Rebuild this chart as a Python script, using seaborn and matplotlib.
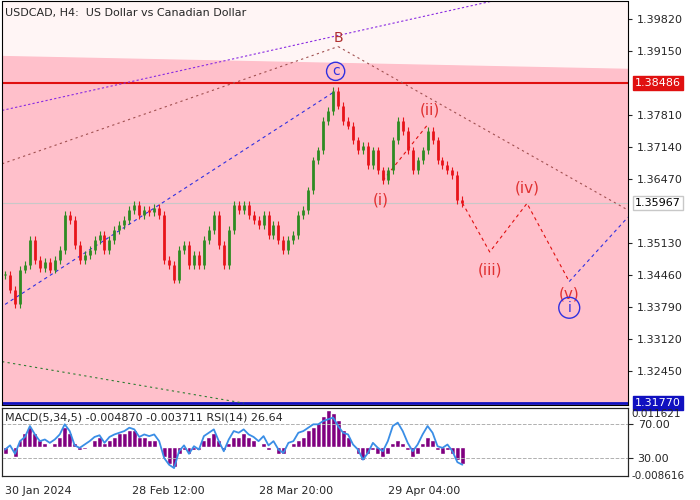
import numpy as np
import matplotlib.pyplot as plt
import seaborn as sns

# close prices (approx)
closes = [1.3446, 1.3415, 1.3384, 1.3457, 1.3467, 1.3519, 1.3477, 1.3461, 1.3473, 1.3457,
          1.3477, 1.3498, 1.3571, 1.3561, 1.3509, 1.3477, 1.3488, 1.3498, 1.3519, 1.3530,
          1.3498, 1.3519, 1.3540, 1.3550, 1.3561, 1.3582, 1.3592, 1.3571, 1.3582, 1.3578,
          1.3586, 1.3571, 1.3477, 1.3467, 1.3436, 1.3498, 1.3509, 1.3467, 1.3488, 1.3467,
          1.3519, 1.3540, 1.3571, 1.3509, 1.3467, 1.3540, 1.3592, 1.3582, 1.3592, 1.3571,
          1.3561, 1.3550, 1.3571, 1.3530, 1.3550, 1.3519, 1.3498, 1.3519, 1.3530, 1.3571,
          1.3582, 1.3623, 1.3686, 1.3707, 1.3769, 1.3790, 1.3832, 1.3801, 1.3769, 1.3759,
          1.3728, 1.3707, 1.3717, 1.3676, 1.3707, 1.3665, 1.3644, 1.3665, 1.3728, 1.3769,
          1.3748, 1.3707, 1.3665, 1.3686, 1.3707, 1.3748, 1.3728, 1.3686, 1.3676, 1.3665,
          1.3655, 1.3603, 1.3597]
rsi = [40, 45, 35, 50, 55, 68, 58, 50, 52, 48, 52, 58, 70, 62, 45, 42, 46, 50, 55, 57,
       48, 55, 58, 60, 62, 66, 64, 55, 58, 56, 58, 50, 30, 22, 18, 38, 45, 35, 44, 40,
       56, 60, 64, 50, 38, 52, 62, 60, 64, 58, 55, 50, 56, 45, 50, 40, 36, 48, 50, 60,
       62, 66, 70, 70, 74, 76, 78, 68, 60, 58, 46, 40, 28, 36, 48, 42, 38, 50, 68, 72,
       62, 48, 38, 46, 58, 68, 60, 44, 42, 46, 38, 25, 22]
macd = [-0.002, 0.0, -0.003, 0.002, 0.004, 0.006, 0.004, 0.002, 0.001, 0.0,
        0.001, 0.003, 0.006, 0.004, 0.001, -0.001, -0.0005, 0.0, 0.002, 0.003,
        0.001, 0.002, 0.003, 0.004, 0.004, 0.005, 0.005, 0.003, 0.003, 0.002,
        0.002, 0.0, -0.003, -0.005, -0.006, -0.002, -0.001, -0.002, -0.001, -0.001,
        0.002, 0.003, 0.004, 0.002, -0.001, 0.001, 0.003, 0.003, 0.004, 0.003,
        0.002, 0.0, 0.001, -0.001, 0.0, -0.002, -0.002, 0.0, 0.001, 0.002,
        0.003, 0.005, 0.006, 0.007, 0.009, 0.011, 0.010, 0.008, 0.005, 0.003,
        0.0, -0.002, -0.004, -0.002, -0.001, -0.002, -0.003, -0.002, 0.001, 0.002,
        0.001, -0.001, -0.003, -0.002, 0.001, 0.003, 0.002, -0.001, -0.002, -0.001,
        -0.002, -0.004, -0.005]
wave_x = [92, 97.5, 105, 113.5]
wave_y = [1.3597, 1.3494, 1.3596, 1.3432]
date_ticks = [0, 25.5, 51, 77]
date_labels = ["30 Jan 2024", "28 Feb 12:00", "28 Mar 20:00", "29 Apr 04:00"]
price_ticks = [1.3982, 1.3915, 1.3781, 1.3714, 1.3647, 1.3513, 1.3446, 1.3379, 1.3312, 1.3245]
resistance = 1.38486
current = 1.35967
support = 1.31770

sns.set_style("white")
plt.rcParams['font.family'] = ['DejaVu Sans']
fig = plt.figure(figsize=(7, 5), dpi=100)
ax = fig.add_axes([0.003, 0.19, 0.894, 0.807])
ax2 = fig.add_axes([0.003, 0.048, 0.894, 0.137])

x0, x1 = -0.6, 125.3
ymin, ymax = 1.3173, 1.40195
ax.set_xlim(x0, x1)
ax.set_ylim(ymin, ymax)
ax.set_facecolor("#fff5f5")
ax.fill_between([x0, x1], ymin, [1.3905, 1.3878], color="#ffc0cb", zorder=0)

# candles
opens = [closes[0]] + closes[:-1]
for i, (o, c) in enumerate(zip(opens, closes)):
    col = "#2e8b22" if c >= o else "#e8141a"
    ax.vlines(i, min(o, c) - 0.0008, max(o, c) + 0.0008, color=col, lw=0.8, zorder=3)
    ax.vlines(i, o, c + (0.0002 if o == c else 0), color=col, lw=2.0, zorder=3)

ax.axhline(resistance, color="#e01010", lw=1.5, zorder=2)
ax.axhline(current, color="#c8c8c8", lw=0.8, zorder=1)
ax.axhline(support, color="#1010c0", lw=2, zorder=2)

# wave lines
ax.plot(wave_x, wave_y, color="#e01010", ls=(0, (3, 3)), lw=0.8)
ax.plot([76, 85], [1.3644, 1.3761], color="#e01010", ls=(0, (3, 3)), lw=0.8)
ax.plot([0, 66.5], [1.3384, 1.3832], color="#3030e0", ls=(0, (3, 3)), lw=0.8)
ax.plot([113.5, 125.3], [1.3432, 1.3567], color="#3030e0", ls=(0, (3, 3)), lw=0.8)
ax.plot([-0.6, 100], [1.3791, 1.4025], color="#8a2be2", ls=(0, (2, 2)), lw=0.8)
ax.plot([-0.6, 67], [1.3679, 1.3925], color="#a05050", ls=(0, (2, 3)), lw=0.8)
ax.plot([67, 125.3], [1.3925, 1.3582], color="#a05050", ls=(0, (2, 3)), lw=0.8)
ax.plot([-0.6, 48], [1.3264, 1.3177], color="#2e7d32", ls=(0, (2, 3)), lw=0.8)

red = "#e03030"
ax.text(67, 1.3935, "B", color="#b03030", fontsize=10, ha="center")
ax.text(66.5, 1.3873, "c", color="#3030e0", fontsize=10, ha="center", va="center",
        bbox=dict(boxstyle="circle,pad=0.15", fc="none", ec="#3030e0"))
ax.text(75.5, 1.3603, "(i)", color=red, fontsize=11, ha="center", va="center")
ax.text(85.5, 1.3792, "(ii)", color=red, fontsize=11, ha="center", va="center")
ax.text(97.5, 1.3456, "(iii)", color=red, fontsize=11, ha="center", va="center")
ax.text(105, 1.3629, "(iv)", color=red, fontsize=11, ha="center", va="center")
ax.text(113.5, 1.3405, "(v)", color=red, fontsize=11, ha="center", va="center")
ax.text(113.5, 1.3377, "i", color="#3030e0", fontsize=10, ha="center", va="center",
        bbox=dict(boxstyle="circle,pad=0.25", fc="none", ec="#3030e0"))
ax.text(0.005, 0.985, "USDCAD, H4:  US Dollar vs Canadian Dollar", transform=ax.transAxes,
        fontsize=8, va="top")

ax.yaxis.tick_right()
ax.set_yticks(price_ticks)
ax.set_yticklabels([f"{p:.5f}" for p in price_ticks], fontsize=8)
ax.tick_params(axis="y", length=3)
ax.set_xticks([])
for val, fc, ec, tc in [(resistance, "#e01010", "#e01010", "white"),
                        (current, "white", "#c8c8c8", "black"),
                        (support, "#1010c0", "#1010c0", "white")]:
    ax.annotate(f"{val:.5f}", xy=(1, val), xycoords=("axes fraction", "data"),
                xytext=(5, 0), textcoords="offset points", fontsize=8, va="center",
                color=tc, bbox=dict(boxstyle="square,pad=0.2", fc=fc, ec=ec))
for s in ax.spines.values():
    s.set_color("black")

# indicator panel
ax2.set_xlim(x0, x1)
ax2.set_ylim(8.6, 90)
idx = np.arange(len(rsi))
axm = ax2.twinx()
axm.set_ylim(-0.008616, 0.011621)
axm.bar(idx, macd, width=1.0, color="#800080", zorder=1)
axm.set_yticks([])
ax2.set_zorder(axm.get_zorder() + 1)
ax2.patch.set_visible(False)
ax2.axhline(70, color="#b0b0b0", ls="--", lw=0.7)
ax2.axhline(30, color="#b0b0b0", ls="--", lw=0.7)
sns.lineplot(x=idx, y=rsi, ax=ax2, color="#3a8ee6", lw=1.3)
ax2.yaxis.tick_right()
ax2.set_yticks([30, 70])
ax2.set_yticklabels(["30.00", "70.00"], fontsize=8)
ax2.text(1.005, 0.98, "0.011621", transform=ax2.transAxes, fontsize=7.5, va="top")
ax2.text(1.005, 0.0, "-0.008616", transform=ax2.transAxes, fontsize=7.5, va="center")
ax2.text(0.005, 0.93, "MACD(5,34,5) -0.004870 -0.003711 RSI(14) 26.64",
         transform=ax2.transAxes, fontsize=8, va="top")
ax2.set_xticks(date_ticks)
ax2.set_xticklabels(date_labels, fontsize=8, ha="left")
ax2.tick_params(axis="x", length=4)
ax2.set_ylabel("")

fig.savefig("out.png", dpi=100)
